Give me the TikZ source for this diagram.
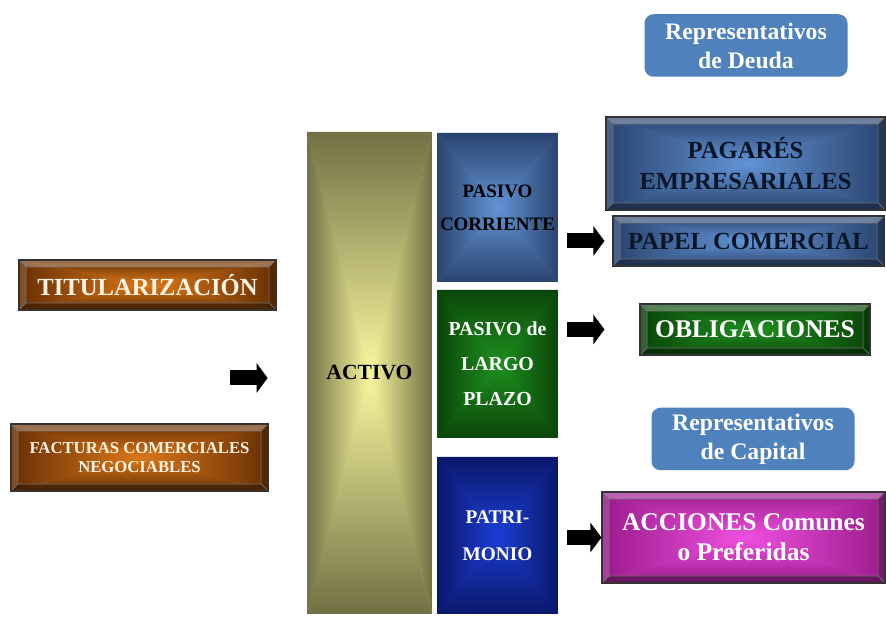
\documentclass[tikz,border=0pt]{standalone}
\usepackage{fontspec}
\setmainfont{Liberation Serif}
\usepackage{xcolor}
\usepackage{tikz}
\usetikzlibrary{arrows.meta,calc}
\definecolor{azulrotulo}{HTML}{4F81BD}
\definecolor{azulclaro}{HTML}{6294D4}
\definecolor{azuloscuro}{HTML}{2A4470}
\definecolor{verdeclaro}{HTML}{1E901E}
\definecolor{verdeoscuro}{HTML}{0A460A}
\definecolor{azulvivo}{HTML}{1C3ED4}
\definecolor{azulnoche}{HTML}{0A186A}
\definecolor{oliva}{HTML}{FAF89E}
\definecolor{olivaoscuro}{HTML}{707044}
\definecolor{naranja}{HTML}{DC781A}
\definecolor{cafe}{HTML}{683004}
\definecolor{fucsia}{HTML}{F050E0}
\definecolor{fucsiaoscuro}{HTML}{9A1C8C}
\definecolor{tinta}{HTML}{0A1628}
\definecolor{crema}{HTML}{FFF4E2}
% degradado rectangular desde el centro: #1 centro, #2 medio, #3 borde
\newcommand{\degradado}[3]{%
  \path (path picture bounding box.center) coordinate (gc)
        (path picture bounding box.north west) coordinate (gnw)
        (path picture bounding box.north east) coordinate (gne)
        (path picture bounding box.south west) coordinate (gsw)
        (path picture bounding box.south east) coordinate (gse);
  \shade[top color=#3,middle color=#2,bottom color=#1] (gnw) -- (gne) -- (gc) -- cycle;
  \shade[bottom color=#3,middle color=#2,top color=#1] (gsw) -- (gse) -- (gc) -- cycle;
  \shade[left color=#3,middle color=#2,right color=#1] (gnw) -- (gsw) -- (gc) -- cycle;
  \shade[right color=#3,middle color=#2,left color=#1] (gne) -- (gse) -- (gc) -- cycle;
}

\begin{document}
\begin{tikzpicture}[font=\bfseries,
  bloque/.style n args={3}{draw=none,align=center,inner sep=0pt,fill=#2,
    path picture={\degradado{#1}{#2}{#3}}},
  etiqueta/.style={fill=azulrotulo,rounded corners=0.18cm,text=white,align=center,inner sep=0pt,
    minimum width=4.06cm,minimum height=1.25cm,font=\fontsize{13.5}{16.5}\selectfont\bfseries},
  bisel/.style n args={3}{draw=black!80,line width=0.6pt,align=center,inner sep=0pt,fill=#2,
    path picture={
      \degradado{#1}{#2}{#3}
      \coordinate (bl) at (path picture bounding box.south west);
      \coordinate (tr) at (path picture bounding box.north east);
      \coordinate (tl) at (bl|-tr);
      \coordinate (br) at (tr|-bl);
      \coordinate (ibl) at ($(bl)+(0.14,0.14)$);
      \coordinate (itr) at ($(tr)+(-0.14,-0.14)$);
      \coordinate (itl) at (ibl|-itr);
      \coordinate (ibr) at (itr|-ibl);
      \fill[white,opacity=.3] (tl) -- (tr) -- (itr) -- (itl) -- cycle;
      \fill[white,opacity=.15] (tl) -- (itl) -- (ibl) -- (bl) -- cycle;
      \fill[black,opacity=.35] (bl) -- (ibl) -- (ibr) -- (br) -- cycle;
      \fill[black,opacity=.2] (br) -- (ibr) -- (itr) -- (tr) -- cycle;
      \draw[black!55,line width=.4pt] (itl) rectangle (ibr) (tl) -- (itl) (tr) -- (itr) (bl) -- (ibl) (br) -- (ibr);
    }},
  flecha/.style={line width=0.30cm,black,-{Triangle[length=0.22cm,width=0.58cm]}}]
\useasboundingbox[fill=white] (0,0) rectangle (17.72,12.44);
% columna central
\node[bloque={oliva}{oliva!70!olivaoscuro}{olivaoscuro},minimum width=2.5cm,minimum height=9.64cm,
  font=\fontsize{12.3}{15}\selectfont\bfseries] (activo) at (7.39,4.98) {ACTIVO};
\node[bloque={azulclaro}{azulclaro!70!azuloscuro}{azuloscuro},minimum width=2.42cm,minimum height=2.98cm,
  font=\fontsize{10.8}{18.7}\selectfont\bfseries] (pc) at (9.95,8.29) {PASIVO\\CORRIENTE};
\node[bloque={verdeclaro}{verdeclaro!75!verdeoscuro}{verdeoscuro},text=white,minimum width=2.42cm,minimum height=2.96cm,
  font=\fontsize{11.3}{19.8}\selectfont\bfseries] (lp) at (9.95,5.16) {PASIVO de\\LARGO\\PLAZO};
\node[bloque={azulvivo}{azulvivo!85!azulnoche}{azulnoche},text=white,minimum width=2.42cm,minimum height=3.14cm,
  font=\fontsize{11}{21}\selectfont\bfseries] (patri) at (9.95,1.73) {PATRI-\\MONIO};
% izquierda
\node[bisel={naranja}{naranja!75!cafe}{cafe},text=crema,minimum width=5.14cm,minimum height=1cm,
  font=\fontsize{14}{17}\selectfont\bfseries] (titul) at (2.95,6.74) {TITULARIZACIÓN};
\node[bisel={naranja}{naranja!75!cafe}{cafe},text=crema,minimum width=5.14cm,minimum height=1.34cm,
  font=\fontsize{9.5}{10.8}\selectfont\bfseries] (facturas) at (2.79,3.29) {FACTURAS COMERCIALES\\NEGOCIABLES};
% derecha
\node[etiqueta] (deuda) at (14.92,11.53) {Representativos\\de Deuda};
\node[bisel={azulclaro}{azulclaro!75!azuloscuro}{azuloscuro},text=tinta,minimum width=5.58cm,minimum height=1.86cm,
  font=\fontsize{14}{18}\selectfont\bfseries] (pagares) at (14.91,9.17) {PAGARÉS\\EMPRESARIALES};
\node[bisel={azulclaro}{azulclaro!75!azuloscuro}{azuloscuro},text=tinta,minimum width=5.42cm,minimum height=1cm,
  font=\fontsize{14}{17}\selectfont\bfseries] (papel) at (14.97,7.62) {PAPEL COMERCIAL};
\node[bisel={verdeclaro}{verdeclaro!75!verdeoscuro}{verdeoscuro},text=white,minimum width=4.6cm,minimum height=1.02cm,
  font=\fontsize{14.5}{17}\selectfont\bfseries] (oblig) at (15.10,5.85) {OBLIGACIONES};
\node[etiqueta] (capital) at (15.06,3.66) {Representativos\\de Capital};
\node[bisel={fucsia}{fucsia!75!fucsiaoscuro}{fucsiaoscuro},text=white,minimum width=5.66cm,minimum height=1.82cm,
  font=\fontsize{14.5}{17}\selectfont\bfseries] (acciones) at (14.87,1.69) {ACCIONES Comunes\\o Preferidas};
% flechas
\draw[flecha] ($(activo.west)+(-1.54,-0.10)$) -- ($(activo.west)+(-0.78,-0.10)$);
\draw[flecha] ($(pc.east |- papel.west)+(0.18,0)$) -- ($(papel.west)+(-0.16,0)$);
\draw[flecha] ($(lp.east |- oblig.west)+(0.18,0)$) -- ($(oblig.west)+(-0.70,0)$);
\draw[flecha] ($(patri.east |- acciones.west)+(0.18,0)$) -- (acciones.west);
\end{tikzpicture}
\end{document}
